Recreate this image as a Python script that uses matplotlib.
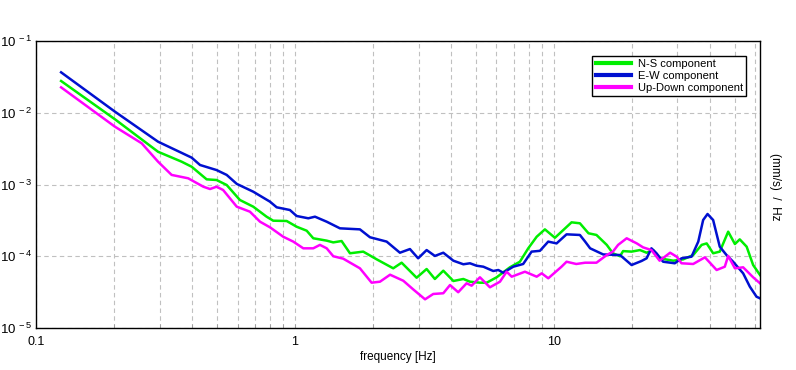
import numpy as np
import matplotlib
matplotlib.use("Agg")
import matplotlib.pyplot as plt
from matplotlib.ticker import FixedLocator, NullFormatter, FixedFormatter, LogLocator, FuncFormatter

# ---- data (frequency in Hz, spectral amplitude in (mm/s)/Hz) ----
ns_freq = [0.125, 0.2018, 0.296, 0.365, 0.399, 0.456, 0.498, 0.545, 0.613, 0.690,
           0.777, 0.824, 0.929, 1.015, 1.110, 1.177, 1.326, 1.406, 1.514, 1.631,
           1.835, 2.068, 2.396, 2.582, 2.95, 3.225, 3.47, 3.74, 4.09, 4.47,
           4.74, 5.18, 5.50, 6.01, 6.76, 7.39, 7.96, 8.58, 9.23, 10.09,
           10.7, 11.7, 12.6, 13.6, 14.6, 16.0, 16.9, 18.0, 18.5, 19.95,
           21.5, 22.8, 24.2, 25.6, 28.9, 31.6, 34.5, 37.2, 38.9, 41.2,
           43.7, 47.1, 50.0, 52.2, 55.5, 58.8, 62.5]
ns_vals = [0.0277, 0.00811, 0.00286, 0.00208, 0.00177, 0.00118, 0.001155, 9.84e-4, 6.08e-4, 4.91e-4,
           3.56e-4, 3.13e-4, 3.10e-4, 2.58e-4, 2.27e-4, 1.78e-4, 1.65e-4, 1.56e-4, 1.63e-4, 1.10e-4,
           1.16e-4, 9.06e-5, 6.79e-5, 8.13e-5, 5.02e-5, 6.64e-5, 4.82e-5, 6.29e-5, 4.52e-5, 4.82e-5,
           4.42e-5, 4.28e-5, 4.28e-5, 5.09e-5, 7.01e-5, 8.39e-5, 1.29e-4, 1.87e-4, 2.37e-4, 1.81e-4,
           2.20e-4, 2.97e-4, 2.88e-4, 2.09e-4, 1.98e-4, 1.44e-4, 1.10e-4, 1.00e-4, 1.18e-4, 1.16e-4,
           1.22e-4, 1.12e-4, 1.22e-4, 9.36e-5, 8.67e-5, 9.06e-5, 1.04e-4, 1.44e-4, 1.51e-4, 1.10e-4,
           1.16e-4, 2.20e-4, 1.48e-4, 1.72e-4, 1.36e-4, 7.55e-5, 5.48e-5]

ew_freq = [0.125, 0.2018, 0.296, 0.399, 0.430, 0.498, 0.545, 0.596, 0.690, 0.801,
           0.850, 0.956, 1.015, 1.126, 1.195, 1.326, 1.492, 1.782, 1.948, 2.26,
           2.543, 2.78, 2.99, 3.225, 3.47, 3.74, 4.09, 4.47, 4.74, 5.03,
           5.34, 5.83, 6.10, 6.37, 6.97, 7.61, 8.20, 8.83, 9.51, 10.24,
           11.19, 12.6, 13.2, 13.8, 15.5, 18.0, 19.95, 21.8, 22.8, 23.8,
           24.9, 26.4, 29.3, 31.1, 34.0, 36.1, 37.7, 39.2, 41.2, 43.7,
           46.4, 49.2, 53.8, 57.1, 60.6, 62.5]
ew_vals = [0.0366, 0.01035, 0.00395, 0.00237, 0.00187, 0.00159, 0.00136, 0.00102, 7.94e-4, 5.76e-4,
           4.81e-4, 4.41e-4, 3.64e-4, 3.38e-4, 3.56e-4, 3.03e-4, 2.45e-4, 2.37e-4, 1.84e-4, 1.60e-4,
           1.12e-4, 1.26e-4, 9.36e-5, 1.22e-4, 1.01e-4, 1.12e-4, 8.67e-5, 7.73e-5, 7.98e-5, 7.38e-5,
           7.15e-5, 6.23e-5, 6.43e-5, 5.90e-5, 7.15e-5, 7.80e-5, 1.16e-4, 1.19e-4, 1.60e-4, 1.51e-4,
           2.02e-4, 1.98e-4, 1.60e-4, 1.29e-4, 1.06e-4, 1.04e-4, 7.55e-5, 8.59e-5, 9.36e-5, 1.29e-4,
           1.10e-4, 8.39e-5, 7.98e-5, 9.36e-5, 9.86e-5, 1.60e-4, 3.20e-4, 3.88e-4, 3.20e-4, 1.36e-4,
           1.04e-4, 8.39e-5, 5.78e-5, 3.77e-5, 2.73e-5, 2.59e-5]

ud_freq = [0.125, 0.2018, 0.256, 0.296, 0.334, 0.387, 0.443, 0.470, 0.498, 0.528,
           0.596, 0.670, 0.733, 0.801, 0.901, 0.985, 1.077, 1.177, 1.249, 1.326,
           1.406, 1.536, 1.782, 1.977, 2.13, 2.33, 2.62, 2.86, 3.18, 3.42,
           3.74, 3.97, 4.27, 4.60, 4.81, 5.18, 5.66, 6.19, 6.57, 6.87,
           7.73, 8.58, 8.97, 9.51, 10.7, 11.19, 12.2, 13.2, 14.6, 16.0,
           16.9, 17.7, 19.1, 20.9, 22.1, 23.8, 25.6, 28.1, 29.8, 31.1,
           34.5, 38.3, 42.5, 45.7, 47.1, 50.0, 53.8, 58.8, 62.5]
ud_vals = [0.0226, 0.00639, 0.00375, 0.00208, 0.00136, 0.00122, 9.31e-4, 8.65e-4, 9.31e-4, 8.38e-4,
           4.91e-4, 4.18e-4, 3.03e-4, 2.53e-4, 1.87e-4, 1.60e-4, 1.29e-4, 1.29e-4, 1.44e-4, 1.29e-4,
           1.00e-4, 9.25e-5, 6.79e-5, 4.28e-5, 4.42e-5, 5.53e-5, 4.56e-5, 3.46e-5, 2.51e-5, 2.98e-5,
           3.05e-5, 3.97e-5, 3.15e-5, 4.20e-5, 3.89e-5, 5.09e-5, 3.69e-5, 4.42e-5, 6.09e-5, 5.19e-5,
           6.09e-5, 5.19e-5, 5.78e-5, 4.93e-5, 7.15e-5, 8.39e-5, 7.80e-5, 8.13e-5, 8.13e-5, 1.04e-4,
           1.16e-4, 1.44e-4, 1.78e-4, 1.51e-4, 1.33e-4, 1.22e-4, 8.67e-5, 1.12e-4, 9.86e-5, 7.98e-5,
           7.80e-5, 9.66e-5, 6.43e-5, 7.15e-5, 1.01e-4, 6.79e-5, 7.01e-5, 5.09e-5, 4.20e-5]

series_labels = ["N-S component", "E-W component", "Up-Down component"]
series_colors = ["#00ee00", "#0010d0", "#ff00ff"]
x_tick_vals = [0.1, 1, 10]
x_tick_labels = ["0.1", "1", "10"]

plt.rcParams['font.family'] = ['Liberation Sans', 'DejaVu Sans']
plt.rcParams['mathtext.fontset'] = 'custom'
plt.rcParams['mathtext.rm'] = 'Liberation Sans'

fig = plt.figure(figsize=(7.96, 3.70), dpi=100)
ax = fig.add_axes([36/796, 1-328/370, (760-36)/796, (328-41)/370])

for fr, vals, lab, col in zip([ns_freq, ew_freq, ud_freq], [ns_vals, ew_vals, ud_vals],
                              series_labels, series_colors):
    ax.plot(fr, vals, color=col, lw=1.8, label=lab, solid_joinstyle='round')

ax.set_xscale('log')
ax.set_yscale('log')
ax.set_xlim(0.1, 62.5)
ax.set_ylim(1e-5, 1e-1)

ax.xaxis.set_major_locator(FixedLocator(x_tick_vals))
ax.xaxis.set_major_formatter(FixedFormatter(x_tick_labels))
ax.xaxis.set_minor_locator(LogLocator(base=10, subs=np.arange(2, 10)))
ax.xaxis.set_minor_formatter(NullFormatter())
ax.yaxis.set_major_locator(LogLocator(base=10, numticks=10))
ax.yaxis.set_major_formatter(FuncFormatter(lambda v, p: r'$10^{\,%d}$' % int(round(np.log10(v)))))
ax.yaxis.set_minor_locator(FixedLocator([]))

ax.tick_params(axis='x', which='both', direction='in', length=3, width=0.6,
               color='#999999', labelsize=9, pad=6)
ax.tick_params(axis='y', which='both', length=0, labelsize=9.5, pad=3)

ax.grid(True, which='major', axis='both', color='#c0c0c0', ls=(0, (4, 3)), lw=0.8)
ax.grid(True, which='minor', axis='x', color='#c0c0c0', ls=(0, (4, 3)), lw=0.8)
for s in ax.spines.values():
    s.set_color('black')
    s.set_linewidth(1.0)

ax.set_xlabel("frequency [Hz]", fontsize=8.5, labelpad=2)

leg = ax.legend(loc='upper right', bbox_to_anchor=(0.981, 0.948), fontsize=8,
                frameon=True, fancybox=False, edgecolor='black', framealpha=1,
                handlelength=3.2, handletextpad=0.6, borderpad=0.3, labelspacing=0.15,
                borderaxespad=0)
leg.get_frame().set_linewidth(1.0)
for line in leg.get_lines():
    line.set_linewidth(3.0)

fig.text(775/796, 0.495, "(mm/s)  /  Hz", rotation=270, va='center', ha='center', fontsize=8.5)

fig.savefig("out.png", dpi=100, facecolor='white')
